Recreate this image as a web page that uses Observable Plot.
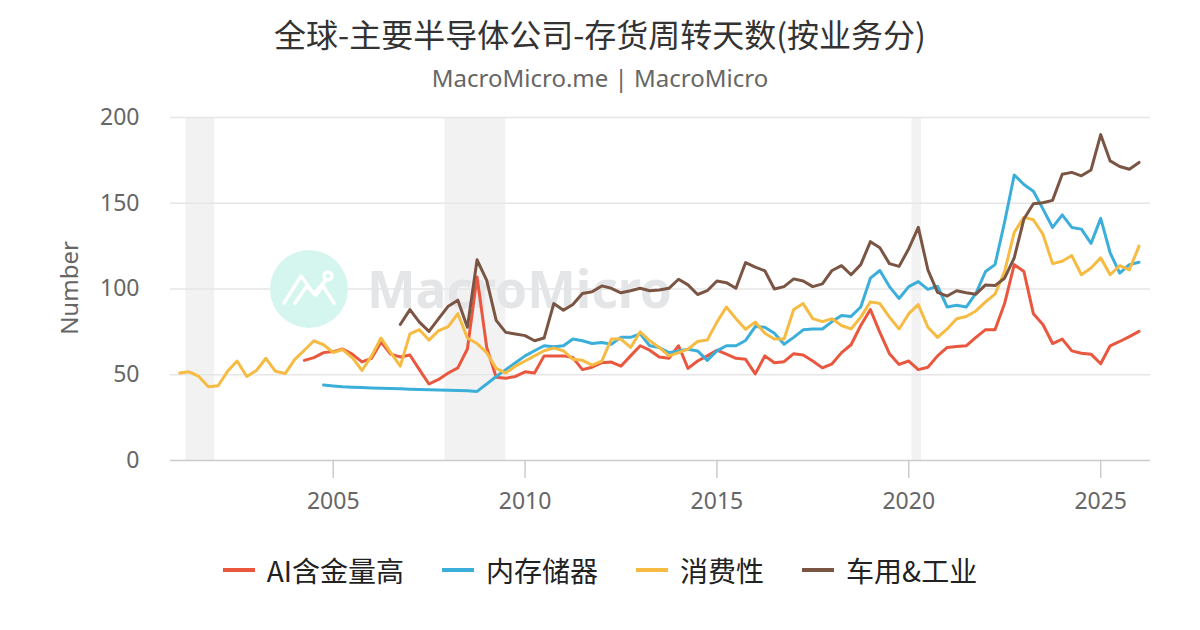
<!DOCTYPE html>
<html><head><meta charset="utf-8">
<script src="https://cdn.jsdelivr.net/npm/d3@7"></script>
<script src="https://cdn.jsdelivr.net/npm/@observablehq/plot@0.6"></script>
<style>
html,body{margin:0;padding:0;}
body{width:1200px;height:630px;background:#fff;position:relative;overflow:hidden;font-family:"Noto Sans","Noto Sans CJK SC",sans-serif;}
#title{position:absolute;top:10px;left:0;width:1200px;text-align:center;font-size:32px;line-height:46px;color:#333;font-family:"Noto Sans CJK SC","Noto Sans",sans-serif;}
#subtitle{position:absolute;top:62px;left:0;width:1200px;text-align:center;font-size:24px;line-height:32px;color:#666;}
#ylabel{position:absolute;left:68px;top:288px;transform:translate(-50%,-50%) rotate(-90deg);font-size:24px;color:#666;white-space:nowrap;}
#chart{position:absolute;top:100px;left:0;}
#legend{position:absolute;top:550px;left:0;width:1200px;height:40px;display:flex;justify-content:center;align-items:center;gap:38px;font-family:"Noto Sans CJK SC","Noto Sans",sans-serif;font-size:28px;color:#222;}
.item{display:flex;align-items:center;}
.sw{display:inline-block;width:32px;height:4px;margin-right:12px;}
</style>
</head><body>
<div id="title"></div>
<div id="subtitle"></div>
<div id="ylabel"></div>
<div id="chart"></div>
<div id="legend"></div>
<script>
const titleText = "全球-主要半导体公司-存货周转天数(按业务分)";
const subtitleText = "MacroMicro.me | MacroMicro";
const yLabelText = "Number";
const seriesNames = ["AI含金量高", "内存储器", "消费性", "车用&工业"];
const seriesColors = ["#e9573f", "#3bafda", "#f6bb42", "#7b5544"];
const firstQuarter = "2001-01-01";
const quarterCount = 101;
const xDomain = ["2000-10-05", "2026-04-20"];
const yTicks = [0, 50, 100, 150, 200];
const xTicks = ["2005-01-01", "2010-01-01", "2015-01-01", "2020-01-01", "2025-01-01"];
const recessionStart = ["2001-03-01", "2007-12-01", "2020-02-01"];
const recessionEnd = ["2001-12-01", "2009-07-01", "2020-05-01"];

// AI含金量高 (starts 2004 Q2)
const aiStart = 13;
const aiValues = [58.4,60,62.9,63.5,65,62,57.5,59.6,69,62,60.4,61.5,53,44.6,47.3,51,54,65,107,65.9,48.5,48,49,51.7,51,61,61,61,60,53,54.4,57,57.4,55,61,66.9,64.3,60.4,59.6,66.9,53.7,58,61,64.3,62,59.6,59,50.5,61,57,57.6,62.3,61.5,58,54,56.4,62.9,67.5,78.7,88,74.7,62.3,56,58,53,54.4,61,65.9,66.5,66.9,71.8,76.3,76.3,91.5,114.2,110.2,85.6,79.3,68.2,70.8,63.9,62.5,62,56.4,66.9,69.4,72.2,75.3];
// 内存储器 (starts 2004 Q4)
const memStart = 15;
const memValues = [44,43.5,43,42.7,42.5,42.3,42.1,42,41.8,41.6,41.4,41.3,41.1,41,40.8,40.6,40.3,44.6,49,53,57,61,64,66.9,66.3,66.9,70.8,69.8,68.2,68.8,67.8,71.8,71.8,73.8,66.9,65.9,62.9,63.9,64.9,63.9,58.4,63.9,66.9,66.9,70,78.1,77.7,74.2,67.8,71.8,76.2,76.7,76.7,81,84.6,84,89.5,106.3,110.8,101.4,94.5,101.4,104.3,99.8,101.6,89.5,90.5,89.5,97.4,110.2,114.2,138.9,166.5,160.9,157,146.7,135.9,143.2,135.9,134.9,126.6,141.2,121.1,109.3,114.2,115.6];
// 消费性 (starts 2001 Q1)
const conStart = 0;
const conValues = [51,51.7,49,43,43.6,52,58,49,52.5,59.6,52,50.7,59,64.3,69.8,67.5,63,64.7,60,52.5,61,71.4,63,55,73.8,76.3,70.2,75.7,78,85.6,71.4,68.2,62.9,53.7,51,55,58,61,64,65.5,64,59,58.4,55.6,58,70.8,70.8,65.9,75,69.8,65.9,61,62.9,64.9,69.4,70.2,80.7,89.5,82.7,76.5,80.7,74.2,70.8,70.8,88,91.5,82.7,81,82.7,78.7,76.7,83.6,92.5,91.5,83.6,76.7,85.6,90.9,77.7,71.8,76.7,82.7,84,87.2,92.5,97,110.2,133,141.8,140.4,131.9,114.8,116.2,119.5,108.3,112.2,118.2,108.3,113.6,111.2,125];
// 车用&工业 (starts 2006 Q4)
const autoStart = 23;
const autoValues = [79.3,88,80.7,75.3,82.7,90,93.5,77.7,117,105,81.7,74.7,73.8,72.8,69.8,71.4,91.5,87.6,91,97.4,98.4,101.8,100.4,97.8,99,100.4,99,99.4,100.4,105.7,102.4,96.8,99,104.7,103.7,100.4,115.4,112.8,110.6,100,101.4,105.9,104.7,101.4,103,110.8,113.6,108.3,114.2,127.6,124,114.8,113.2,123.5,135.9,111.2,98,95.9,99,97.8,97,102.4,102,106.3,118.2,140.8,149.7,150.3,151.7,166.9,168,166,169.4,190,174.7,171.4,169.8,173.8];

const quarters = d3.utcMonth.every(3).range(new Date(firstQuarter), d3.utcMonth.offset(new Date(firstQuarter), 3 * quarterCount));
const starts = [aiStart, memStart, conStart, autoStart];
const valueLists = [aiValues, memValues, conValues, autoValues];
const rows = [];
seriesNames.forEach((name, s) => {
  valueLists[s].forEach((v, k) => rows.push({series: name, date: quarters[starts[s] + k], value: v}));
});
const recessions = recessionStart.map((d, i) => ({start: new Date(d), end: new Date(recessionEnd[i])}));

document.getElementById("title").textContent = titleText;
document.getElementById("subtitle").textContent = subtitleText;
document.getElementById("ylabel").textContent = yLabelText;

function watermark() {
  const g = d3.create("svg:g").attr("pointer-events", "none");
  const cx = 309, cy = 189;
  g.append("circle").attr("cx", cx).attr("cy", cy).attr("r", 39).attr("fill", "#d4f6ef");
  const lg = g.append("g").attr("transform", `translate(${cx},${cy})`).attr("fill", "none").attr("stroke", "#fff").attr("stroke-width", 3.5).attr("stroke-linecap", "round").attr("stroke-linejoin", "round");
  lg.append("path").attr("d", "M-25,14 L-8,-13 L5,5 L16,-8");
  lg.append("path").attr("d", "M-14,14 L-2,-3 L7,6 L14,-3 L25,14");
  lg.append("circle").attr("cx", 19).attr("cy", -13).attr("r", 4);
  g.append("text").attr("x", 367).attr("y", 208).attr("text-anchor", "start").attr("font-size", 52).attr("font-weight", "bold")
    .attr("font-family", "'Noto Sans', sans-serif").attr("fill", "#e4e5e7")
    .attr("textLength", 305).attr("lengthAdjust", "spacingAndGlyphs").text("MacroMicro");
  return g.node();
}

const lineMarks = seriesNames.map((name, s) =>
  Plot.line(rows.filter(r => r.series === name), {x: "date", y: "value", stroke: seriesColors[s], strokeWidth: 3, strokeLinejoin: "round"})
);

const chart = Plot.plot({
  width: 1200,
  height: 430,
  marginTop: 17,
  marginBottom: 70,
  marginLeft: 170,
  marginRight: 50,
  style: {fontFamily: "'Noto Sans', sans-serif", fontSize: "23px", color: "#666", background: "transparent", overflow: "visible"},
  x: {type: "utc", domain: xDomain.map(d => new Date(d))},
  y: {domain: [0, 200]},
  marks: [
    Plot.rect(recessions, {x1: "start", x2: "end", y1: () => 0, y2: () => 200, fill: "#f2f2f2"}),
    Plot.gridY(yTicks.filter(t => t > 0), {stroke: "#e6e6e6", strokeOpacity: 1, strokeWidth: 1.5}),
    watermark,
    Plot.ruleY([0], {stroke: "#ccc", strokeWidth: 1.5}),
    Plot.axisY(yTicks, {tickSize: 0, tickPadding: 31, label: null, fill: "#666", fontSize: 23}),
    Plot.axisX(xTicks.map(d => new Date(d)), {tickSize: 18, tickPadding: 14, stroke: "#ccc", strokeWidth: 1.5, label: null, fill: "#666", fontSize: 23, tickFormat: d3.utcFormat("%Y")}),
    ...lineMarks
  ]
});
document.getElementById("chart").appendChild(chart);

const legend = document.getElementById("legend");
seriesNames.forEach((name, s) => {
  const item = document.createElement("div");
  item.className = "item";
  const sw = document.createElement("span");
  sw.className = "sw";
  sw.style.background = seriesColors[s];
  const tx = document.createElement("span");
  tx.textContent = name;
  item.appendChild(sw);
  item.appendChild(tx);
  legend.appendChild(item);
});
</script>
</body></html>
